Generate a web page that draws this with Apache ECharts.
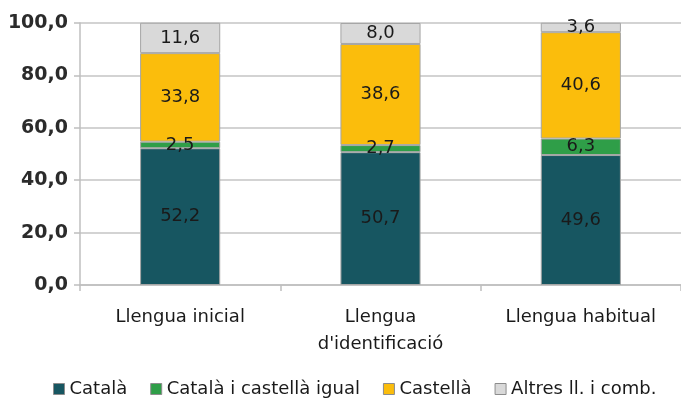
<!DOCTYPE html>
<html>
<head>
<meta charset="utf-8">
<script src="https://cdn.jsdelivr.net/npm/echarts@6/dist/echarts.min.js"></script>
<style>
  html, body { margin: 0; padding: 0; background: #fff; }
  #chart { width: 681px; height: 403px; }
</style>
</head>
<body>
<div id="chart"></div>
<script>
// Language indicators (percent)
const categories = ['Llengua inicial', 'Llengua\nd\'identificació', 'Llengua habitual'];
const catala = [52.2, 50.7, 49.6];
const catalaCastellaIgual = [2.5, 2.7, 6.3];
const castella = [33.8, 38.6, 40.6];
const altres = [11.6, 8.0, 3.6];

const seriesDefs = [
  { name: 'Català', data: catala, color: '#175661' },
  { name: 'Català i castellà igual', data: catalaCastellaIgual, color: '#2f9e48' },
  { name: 'Castellà', data: castella, color: '#fbbd0c' },
  { name: 'Altres ll. i comb.', data: altres, color: '#d9d9d9' }
];

const fmt = v => v.toFixed(1).replace('.', ',');
const FONT = 'DejaVu Sans';

const chart = echarts.init(document.getElementById('chart'));
chart.setOption({
  animation: false,
  textStyle: { fontFamily: FONT },
  grid: { left: 80, right: 0, top: 23, bottom: 118 },
  legend: {
    bottom: 0,
    left: 48,
    itemWidth: 11,
    itemHeight: 11,
    itemGap: 23,
    icon: 'rect',
    textStyle: { fontFamily: FONT, fontSize: 18, color: '#1a1a1a' },
    data: seriesDefs.map(s => ({ name: s.name, itemStyle: { borderColor: '#8c8c8c', borderWidth: 1 } }))
  },
  xAxis: {
    type: 'category',
    data: categories,
    axisLine: { lineStyle: { color: '#bfbfbf', width: 1.5 } },
    axisTick: { show: true, length: 6, lineStyle: { color: '#bfbfbf', width: 1.5 } },
    axisLabel: { fontFamily: FONT, fontSize: 18, color: '#1a1a1a', lineHeight: 27, margin: 19 }
  },
  yAxis: {
    type: 'value',
    min: 0,
    max: 100,
    interval: 20,
    axisLine: { show: true, lineStyle: { color: '#bfbfbf', width: 1.5 } },
    axisTick: { show: true, length: 6, lineStyle: { color: '#bfbfbf', width: 1.5 } },
    splitLine: { lineStyle: { color: '#c4c4c4', width: 1.5 } },
    axisLabel: { fontFamily: FONT, fontSize: 19, fontWeight: 'bold', color: '#2b2b2b', margin: 12, formatter: fmt }
  },
  series: seriesDefs.map(s => ({
    name: s.name,
    type: 'bar',
    stack: 'total',
    barWidth: '40%',
    data: s.data,
    itemStyle: { color: s.color, borderColor: '#a6a6a6', borderWidth: 1 },
    label: {
      show: true,
      position: 'inside',
      fontFamily: FONT,
      fontSize: 18,
      color: '#1a1a1a',
      formatter: p => fmt(p.value)
    }
  }))
});
</script>
</body>
</html>
